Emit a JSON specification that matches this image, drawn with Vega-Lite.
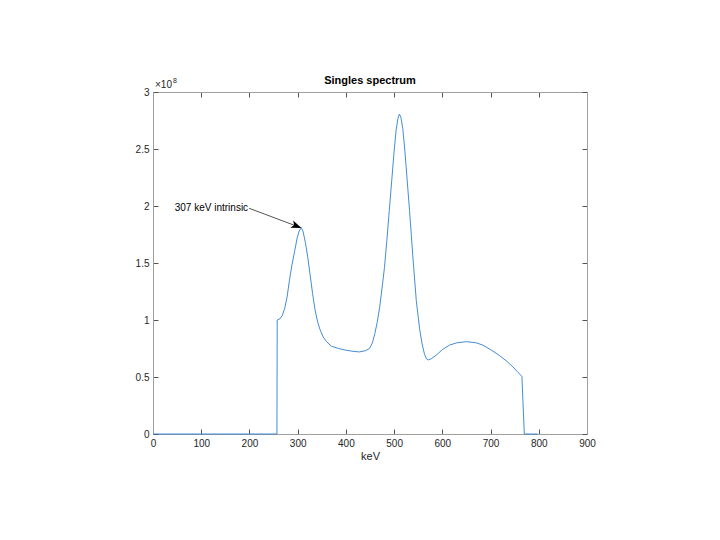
{
  "$schema": "https://vega.github.io/schema/vega-lite/v6.json",
  "autosize": {"type": "none"},
  "padding": {"left": 153, "top": 92, "right": 133, "bottom": 106},
  "width": 434,
  "height": 342,
  "background": "white",
  "config": {
    "font": "Liberation Sans",
    "view": {"stroke": "#a0a0a0", "strokeWidth": 1},
    "axis": {
      "grid": false,
      "labelFlush": false,
      "domainColor": "#a0a0a0",
      "tickColor": "#555555",
      "tickSize": -5,
      "labelColor": "#262626",
      "labelFontSize": 10,
      "labelFont": "Liberation Sans",
      "titleFont": "Liberation Sans",
      "titleFontWeight": "normal",
      "titleColor": "#262626",
      "titleFontSize": 11
    }
  },
  "title": {"text": "Singles spectrum", "fontSize": 11, "fontWeight": "bold", "font": "Liberation Sans", "color": "black", "anchor": "middle", "offset": -9},
  "datasets": {
    "spectrum": [
      {"keV": 0, "counts": 0}, {"keV": 100, "counts": 0}, {"keV": 200, "counts": 0}, {"keV": 257, "counts": 0},
      {"keV": 257.6, "counts": 100000000}, {"keV": 263, "counts": 101000000}, {"keV": 268, "counts": 104000000},
      {"keV": 273, "counts": 110000000}, {"keV": 278, "counts": 120000000}, {"keV": 283, "counts": 135000000},
      {"keV": 288, "counts": 148000000}, {"keV": 294, "counts": 161000000}, {"keV": 299, "counts": 172000000},
      {"keV": 303, "counts": 178000000}, {"keV": 307.5, "counts": 181000000}, {"keV": 311, "counts": 178000000},
      {"keV": 316, "counts": 168000000}, {"keV": 321, "counts": 155000000}, {"keV": 326, "counts": 139000000},
      {"keV": 331, "counts": 123000000}, {"keV": 336, "counts": 109000000}, {"keV": 341, "counts": 99000000},
      {"keV": 346, "counts": 92000000}, {"keV": 353, "counts": 85000000}, {"keV": 360, "counts": 81000000},
      {"keV": 370, "counts": 77000000}, {"keV": 385, "counts": 75000000}, {"keV": 400, "counts": 73500000},
      {"keV": 415, "counts": 72500000}, {"keV": 428, "counts": 72000000}, {"keV": 440, "counts": 73000000},
      {"keV": 449, "counts": 75000000}, {"keV": 455, "counts": 80000000}, {"keV": 460, "counts": 88000000},
      {"keV": 465, "counts": 98000000}, {"keV": 470, "counts": 111000000}, {"keV": 475, "counts": 128000000},
      {"keV": 480, "counts": 146000000}, {"keV": 485, "counts": 170000000}, {"keV": 490, "counts": 196000000},
      {"keV": 495, "counts": 222000000}, {"keV": 500, "counts": 248000000}, {"keV": 504, "counts": 266000000},
      {"keV": 508, "counts": 277000000}, {"keV": 511, "counts": 280500000}, {"keV": 514, "counts": 278000000},
      {"keV": 518, "counts": 268000000}, {"keV": 522, "counts": 250000000}, {"keV": 525, "counts": 234000000},
      {"keV": 532, "counts": 196000000}, {"keV": 539, "counts": 155000000}, {"keV": 546, "counts": 117000000},
      {"keV": 553, "counts": 92000000}, {"keV": 558, "counts": 79000000}, {"keV": 563, "counts": 70000000},
      {"keV": 567, "counts": 66000000}, {"keV": 571, "counts": 65000000}, {"keV": 577, "counts": 66000000},
      {"keV": 587, "counts": 69000000}, {"keV": 600, "counts": 74000000}, {"keV": 615, "counts": 78000000},
      {"keV": 630, "counts": 80000000}, {"keV": 650, "counts": 81000000}, {"keV": 670, "counts": 80000000},
      {"keV": 684, "counts": 78000000}, {"keV": 700, "counts": 74000000}, {"keV": 718, "counts": 69000000},
      {"keV": 733, "counts": 64000000}, {"keV": 746, "counts": 59000000}, {"keV": 755, "counts": 55000000},
      {"keV": 765, "counts": 50500000}, {"keV": 770, "counts": 0}, {"keV": 785, "counts": 0}, {"keV": 798, "counts": 0}
    ],
    "arrow": [{"x1": 199.3, "y1": 198000000, "x2": 300, "y2": 182000000}],
    "head": [{"x": 297.8, "y": 182400000}],
    "note": [{"x": 199.3, "y": 198000000, "label": "307 keV intrinsic"}],
    "exponent": [{"x": 0, "y": 300000000, "base": "×10", "power": "8"}]
  },
  "resolve": {"axis": {"x": "independent", "y": "independent"}},
  "layer": [
    {
      "data": {"name": "spectrum"},
      "mark": {"type": "line", "color": "#2f7fd0", "strokeWidth": 0.9},
      "encoding": {
        "x": {"field": "keV", "type": "quantitative", "scale": {"domain": [0, 900], "nice": false},
              "axis": {"title": "keV", "values": [0,100,200,300,400,500,600,700,800,900], "labelPadding": 9, "titlePadding": 2}},
        "y": {"field": "counts", "type": "quantitative", "scale": {"domain": [0, 300000000], "nice": false},
              "axis": {"title": null, "values": [0,50000000,100000000,150000000,200000000,250000000,300000000], "labelExpr": "datum.value / 100000000", "labelPadding": 9}}
      }
    },
    {
      "data": {"name": "spectrum"},
      "mark": {"type": "line", "strokeOpacity": 0},
      "encoding": {
        "x": {"field": "keV", "type": "quantitative", "scale": {"domain": [0, 900], "nice": false},
              "axis": {"orient": "top", "title": null, "labels": false, "values": [0,100,200,300,400,500,600,700,800,900]}},
        "y": {"field": "counts", "type": "quantitative", "scale": {"domain": [0, 300000000], "nice": false},
              "axis": {"orient": "right", "title": null, "labels": false, "values": [0,50000000,100000000,150000000,200000000,250000000,300000000]}}
      }
    },
    {
      "data": {"name": "arrow"},
      "mark": {"type": "rule", "color": "#555555", "strokeWidth": 1},
      "encoding": {
        "x": {"field": "x1", "type": "quantitative", "axis": null},
        "y": {"field": "y1", "type": "quantitative", "axis": null},
        "x2": {"field": "x2"},
        "y2": {"field": "y2"}
      }
    },
    {
      "data": {"name": "head"},
      "mark": {"type": "point", "filled": true, "color": "black", "opacity": 1, "size": 110, "angle": 21,
               "shape": "M 1 0 L -1 -0.75 L -0.5 0 L -1 0.75 Z", "strokeWidth": 0},
      "encoding": {
        "x": {"field": "x", "type": "quantitative", "axis": null},
        "y": {"field": "y", "type": "quantitative", "axis": null}
      }
    },
    {
      "data": {"name": "note"},
      "mark": {"type": "text", "align": "right", "baseline": "middle", "fontSize": 10, "font": "Liberation Sans", "color": "black", "dx": -1},
      "encoding": {
        "x": {"field": "x", "type": "quantitative", "axis": null},
        "y": {"field": "y", "type": "quantitative", "axis": null},
        "text": {"field": "label"}
      }
    },
    {
      "data": {"name": "exponent"},
      "mark": {"type": "text", "align": "left", "baseline": "alphabetic", "fontSize": 10, "font": "Liberation Sans", "color": "#262626", "dx": 2, "dy": -4},
      "encoding": {
        "x": {"field": "x", "type": "quantitative", "axis": null},
        "y": {"field": "y", "type": "quantitative", "axis": null},
        "text": {"field": "base"}
      }
    },
    {
      "data": {"name": "exponent"},
      "mark": {"type": "text", "align": "left", "baseline": "alphabetic", "fontSize": 7, "font": "Liberation Sans", "color": "#262626", "dx": 20, "dy": -9},
      "encoding": {
        "x": {"field": "x", "type": "quantitative", "axis": null},
        "y": {"field": "y", "type": "quantitative", "axis": null},
        "text": {"field": "power"}
      }
    }
  ]
}
